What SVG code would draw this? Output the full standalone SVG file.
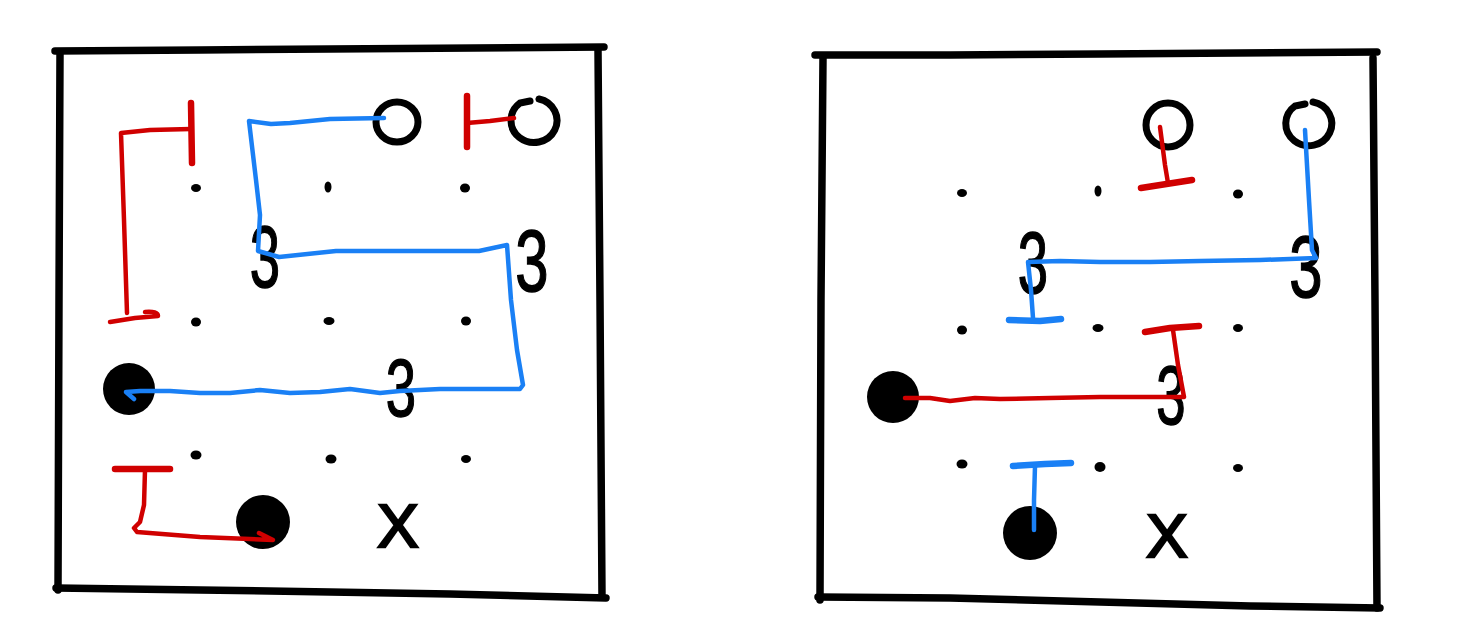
<svg xmlns="http://www.w3.org/2000/svg" width="1462" height="640" viewBox="0 0 1462 640">
<style>
.frame{fill:none;stroke:#000;stroke-width:7.5;stroke-linecap:round;stroke-linejoin:round}
.ring{fill:none;stroke:#000;stroke-width:7;stroke-linecap:round}
.disc{fill:#000}
.dot{fill:#000}
.red{fill:none;stroke:#d00000;stroke-width:4.5;stroke-linecap:round;stroke-linejoin:round}
.blue{fill:none;stroke:#1a80f5;stroke-width:4.5;stroke-linecap:round;stroke-linejoin:round}
.bar{stroke-width:6.5}
.glyph{font-family:"Liberation Sans",Arial,sans-serif;font-size:88px;fill:#000;stroke:#000;stroke-width:1.5;text-anchor:middle}
.ex{font-family:"Liberation Sans",Arial,sans-serif;font-size:62px;fill:#000;stroke:#000;stroke-width:2.5;text-anchor:middle}
</style>
<rect width="1462" height="640" fill="#fff"/>

<g id="panel-left">
  <g id="frame-left">
    <path class="frame" d="M55,51 L200,50 L330,49 L604,47"/>
    <path class="frame" d="M60,54 L59,300 L58,590"/>
    <path class="frame" d="M56,588 L200,590 L330,592 L450,594 L606,598"/>
    <path class="frame" d="M598,50 L600,300 L602,597"/>
  </g>
  <g id="dots-left">
    <ellipse class="dot" cx="196" cy="188" rx="5" ry="4"/>
    <ellipse class="dot" cx="328" cy="187" rx="3.5" ry="5.5"/>
    <ellipse class="dot" cx="465" cy="188" rx="5" ry="4.5"/>
    <ellipse class="dot" cx="196" cy="322" rx="5" ry="4.5"/>
    <ellipse class="dot" cx="329" cy="321" rx="5.5" ry="4"/>
    <ellipse class="dot" cx="466" cy="321" rx="5" ry="4.5"/>
    <ellipse class="dot" cx="196" cy="455" rx="5.5" ry="4.5"/>
    <ellipse class="dot" cx="331" cy="459" rx="5.5" ry="4.5"/>
    <ellipse class="dot" cx="466" cy="459" rx="5" ry="4"/>
  </g>
  <g id="ring-left-1"><ellipse class="ring" cx="397" cy="122" rx="21" ry="20"/></g>
  <g id="ring-left-2"><path class="ring" d="M539,99 A23,22 0 1 1 520,103 L530,101"/></g>
  <g id="disc-left-1"><circle class="disc" cx="129" cy="389" r="26"/></g>
  <g id="disc-left-2"><circle class="disc" cx="263" cy="522" r="27"/></g>
  <g id="three-left-1"><text class="glyph" transform="translate(265,287) scale(0.62,1)">3</text></g>
  <g id="three-left-2"><text class="glyph" transform="translate(532,291) scale(0.68,1)">3</text></g>
  <g id="three-left-3"><text class="glyph" transform="translate(401,416) scale(0.62,0.92)">3</text></g>
  <g id="x-left"><text class="ex" x="398" y="547">X</text></g>
  <g id="connectors-left">
    <path class="red bar" d="M191,103 L192,163"/>
    <path class="red" d="M191,129 L150,130 L121,133 L124,220 L127,313"/>
    <path class="red" d="M110,322 L135,318 L158,316 Q158,311 145,312"/>
    <path class="red bar" d="M467,96 L467,147"/>
    <path class="red" d="M467,123 L490,121 L514,118"/>
    <path class="blue" d="M384,118 L330,119 L290,123 L271,124 L249,121 L256,180 L260,215 L258,251 L279,257 L336,251 L400,251 L479,251 L507,245 L511,300 L517,350 L523,385 L520,389 L480,389 L440,389 L400,391 L380,393 L350,389 L320,392 L290,393 L260,390 L230,393 L200,393 L170,391 L140,391 L126,392 L134,399"/>
    <path class="red bar" d="M115,469 L170,469"/>
    <path class="red" d="M145,470 L144,505 L140,522 L134,528 L137,532 L200,537 L273,540 L259,533"/>
  </g>
</g>

<g id="panel-right">
  <g id="frame-right">
    <path class="frame" d="M815,55 L950,55 L1100,54 L1377,52"/>
    <path class="frame" d="M823,58 L821,300 L820,600"/>
    <path class="frame" d="M818,597 L950,598 L1100,602 L1250,606 L1380,608"/>
    <path class="frame" d="M1373,58 L1375,300 L1377,608"/>
  </g>
  <g id="dots-right">
    <ellipse class="dot" cx="962" cy="193" rx="5" ry="4"/>
    <ellipse class="dot" cx="1098" cy="191" rx="3.5" ry="5.5"/>
    <ellipse class="dot" cx="1238" cy="194" rx="5" ry="4.5"/>
    <ellipse class="dot" cx="962" cy="330" rx="5" ry="4.5"/>
    <ellipse class="dot" cx="1098" cy="328" rx="5.5" ry="4"/>
    <ellipse class="dot" cx="1238" cy="328" rx="5" ry="4"/>
    <ellipse class="dot" cx="962" cy="464" rx="5.5" ry="4.5"/>
    <ellipse class="dot" cx="1100" cy="467" rx="5.5" ry="5"/>
    <ellipse class="dot" cx="1238" cy="468" rx="5" ry="4"/>
  </g>
  <g id="ring-right-1"><ellipse class="ring" cx="1168" cy="125" rx="22" ry="22"/></g>
  <g id="ring-right-2"><path class="ring" d="M1313,102 A23,22 0 1 1 1295,106 L1305,104"/></g>
  <g id="disc-right-1"><circle class="disc" cx="893" cy="397" r="26"/></g>
  <g id="disc-right-2"><circle class="disc" cx="1030" cy="533" r="27"/></g>
  <g id="three-right-1"><text class="glyph" transform="translate(1033,293) scale(0.62,1)">3</text></g>
  <g id="three-right-2"><text class="glyph" transform="translate(1306,297) scale(0.68,1)">3</text></g>
  <g id="three-right-3"><text class="glyph" transform="translate(1171,424) scale(0.6,0.95)">3</text></g>
  <g id="x-right"><text class="ex" x="1167" y="557">X</text></g>
  <g id="connectors-right">
    <path class="red" d="M1160,127 L1165,165 L1168,183"/>
    <path class="red bar" d="M1141,188 L1192,180"/>
    <path class="blue" d="M1305,130 L1309,200 L1312,250 L1316,258 L1260,260 L1200,261 L1150,262 L1100,262 L1060,261 L1028,262 L1031,290 L1033,318"/>
    <path class="blue bar" d="M1009,320 L1040,321 L1061,319"/>
    <path class="red bar" d="M1145,332 L1170,328 L1199,326"/>
    <path class="red" d="M1173,330 L1178,365 L1184,397 L1140,397 L1100,397 L1050,398 L1000,399 L975,398 L950,401 L930,398 L905,398"/>
    <path class="blue bar" d="M1013,466 L1045,464 L1071,463"/>
    <path class="blue" d="M1035,466 L1034,500 L1034,530"/>
  </g>
</g>
</svg>
